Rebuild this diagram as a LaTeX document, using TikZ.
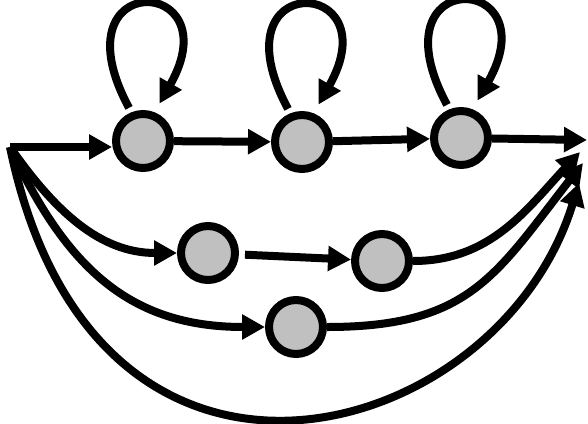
\documentclass[tikz,border=0pt]{standalone}
\usepackage{tikz}
\usetikzlibrary{arrows.meta}
\definecolor{nodegray}{RGB}{192,192,192}
\begin{document}
\begin{tikzpicture}[
  x=1pt, y=1pt,
  hstate/.style={circle, draw, line width=8pt, fill=nodegray,
                 minimum size=54pt, inner sep=0pt},
  arr/.style={-{Triangle[length=23pt,width=24pt]}, line width=8pt},
  selfloop/.style={arr, shorten <=5pt, shorten >=10pt},
]
\useasboundingbox (0,0) rectangle (588,-423);
\coordinate (s) at (10,-147);
\node[hstate] (c1) at (143,-141) {};
\node[hstate] (c2) at (302,-142) {};
\node[hstate] (c3) at (461,-138) {};
\node[hstate] (m1) at (208,-253) {};
\node[hstate] (m2) at (382,-261) {};
\node[hstate] (b)  at (296,-327) {};
\coordinate (e1) at (587,-140);
\coordinate (e2) at (580,-152);
\coordinate (e3) at (583,-163);
\coordinate (e4) at (579,-183);

\draw[arr] (s) -- (c1.west |- s);
\draw[arr] (c1) -- (c2); \draw[arr] (c2) -- (c3);
\draw[arr] (c3) -- (e1);
\foreach \n in {c1,c2,c3}
  \draw[selfloop] (\n.112) .. controls +(-78,145) and +(78,138) .. (\n.68);

\draw[arr] (s) to[out=-55, in=180] (m1);
\draw[arr, shorten <=6pt] (m1) -- (m2);
\draw[arr] (s) to[out=-65, in=180, looseness=1.1] (b);
\draw[arr] (m2) to[out=0, in=-133] (e2);
\draw[arr] (b) to[out=0, in=-128, looseness=1.2] (e3);
\draw[arr] (s) .. controls +(85,-412) and +(-80,-262) .. (e4);
\end{tikzpicture}
\end{document}
